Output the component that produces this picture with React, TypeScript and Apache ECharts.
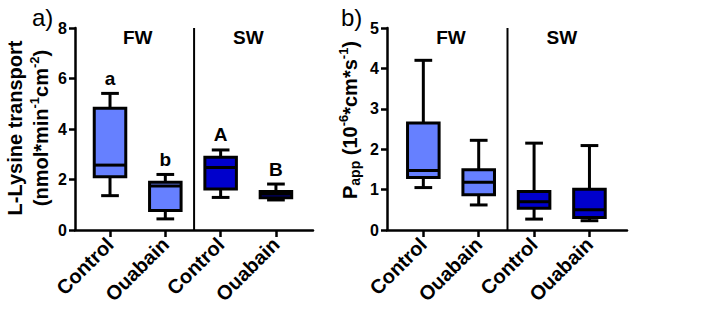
import React, { useEffect, useRef } from "react";
import * as echarts from "echarts";

// ---- data ----
const categories = ["Control", "Ouabain", "Control", "Ouabain"];
const groups = ["FW", "FW", "SW", "SW"];
const groupNames = ["FW", "SW"];

// Panel a: L-Lysine transport  [min, q1, median, q3, max]
const lysineMin = [1.36, 0.44, 1.29, 1.19];
const lysineQ1 = [2.11, 0.77, 1.62, 1.28];
const lysineMedian = [2.57, 1.74, 2.48, 1.42];
const lysineQ3 = [4.82, 1.89, 2.88, 1.52];
const lysineMax = [5.41, 2.2, 3.17, 1.82];
const lysineLetters = ["a", "b", "A", "B"];

// Panel b: Papp
const pappMin = [1.05, 0.62, 0.27, 0.23];
const pappQ1 = [1.3, 0.87, 0.54, 0.31];
const pappMedian = [1.47, 1.18, 0.7, 0.5];
const pappQ3 = [2.65, 1.49, 0.95, 1.01];
const pappMax = [4.2, 2.22, 2.15, 2.09];
const pappLetters = ["", "", "", ""];

const yTicksA = [0, 2, 4, 6, 8];
const yTicksB = [0, 1, 2, 3, 4, 5];

const FONT = '"Liberation Sans", Arial, sans-serif';
const LIGHT = "#6680ff";
const DARK = "#0000cc";
const BOX_W = 0.57;
const CAP_W = 0.32;
const DIVIDER_X = 1.52;

function buildBoxData(mn: number[], q1: number[], md: number[], q3: number[], mx: number[]) {
  return categories.map((_, i) => [i, mn[i], q1[i], md[i], q3[i], mx[i]]);
}

function boxRenderer(letters: string[]) {
  return (params: any, api: any) => {
    const x = api.value(0);
    const lo = api.coord([x, api.value(1)]);
    const q1 = api.coord([x, api.value(2)]);
    const md = api.coord([x, api.value(3)]);
    const q3 = api.coord([x, api.value(4)]);
    const hi = api.coord([x, api.value(5)]);
    const w = api.size([BOX_W, 0])[0];
    const cw = api.size([CAP_W, 0])[0];
    const cx = lo[0];
    const color = groups[params.dataIndex] === "FW" ? LIGHT : DARK;
    const ls = { stroke: "#000", lineWidth: 3 };
    const children: any[] = [
      { type: "line", shape: { x1: cx, y1: hi[1], x2: cx, y2: q3[1] }, style: ls },
      { type: "line", shape: { x1: cx, y1: q1[1], x2: cx, y2: lo[1] }, style: ls },
      { type: "line", shape: { x1: cx - cw / 2, y1: hi[1], x2: cx + cw / 2, y2: hi[1] }, style: ls },
      { type: "line", shape: { x1: cx - cw / 2, y1: lo[1], x2: cx + cw / 2, y2: lo[1] }, style: ls },
      {
        type: "rect",
        shape: { x: cx - w / 2, y: q3[1], width: w, height: q1[1] - q3[1] },
        style: { fill: color, stroke: "#000", lineWidth: 3 },
      },
      { type: "line", shape: { x1: cx - w / 2, y1: md[1], x2: cx + w / 2, y2: md[1] }, style: ls },
    ];
    const letter = letters[params.dataIndex];
    if (letter) {
      children.push({
        type: "text",
        style: {
          text: letter,
          x: cx,
          y: hi[1] - 15,
          align: "center",
          verticalAlign: "middle",
          font: `bold 19px ${FONT}`,
          fill: "#000",
        },
      });
    }
    return { type: "group", children };
  };
}

function groupRenderer() {
  return (params: any, api: any) => {
    const p = api.coord([api.value(0), 0]);
    const top = params.coordSys.y;
    return {
      type: "text",
      style: {
        text: groupNames[params.dataIndex],
        x: p[0],
        y: top + 9,
        align: "center",
        verticalAlign: "middle",
        font: `bold 19px ${FONT}`,
        fill: "#000",
      },
    };
  };
}

function dividerRenderer() {
  return (params: any, api: any) => {
    const p = api.coord([api.value(0), 0]);
    const cs = params.coordSys;
    return {
      type: "line",
      shape: { x1: p[0], y1: cs.y, x2: p[0], y2: cs.y + cs.height },
      style: { stroke: "#000", lineWidth: 2 },
    };
  };
}

function makeXAxis(idx: number, min: number, max: number) {
  return {
    type: "value",
    gridIndex: idx,
    min,
    max,
    splitLine: { show: false },
    axisLine: { show: true, onZero: false, lineStyle: { color: "#000", width: 2.5 } },
    axisTick: { show: true, customValues: [0, 1, 2, 3], length: 7, lineStyle: { color: "#000", width: 2.5 } },
    axisLabel: {
      customValues: [0, 1, 2, 3],
      formatter: (v: number) => categories[Math.round(v)] ?? "",
      rotate: 45,
      margin: 11,
      color: "#000",
      fontWeight: "bold",
      fontSize: 20,
      fontFamily: FONT,
    },
  };
}

function makeYAxis(idx: number, max: number, interval: number) {
  return {
    type: "value",
    gridIndex: idx,
    min: 0,
    max,
    interval,
    position: "left",
    splitLine: { show: false },
    axisLine: { show: true, onZero: false, lineStyle: { color: "#000", width: 2.5 } },
    axisTick: { show: true, length: 6, lineStyle: { color: "#000", width: 2.5 } },
    axisLabel: { margin: 8, color: "#000", fontWeight: "bold", fontSize: 16, fontFamily: FONT },
  };
}

export default function App() {
  const ref = useRef<HTMLDivElement>(null);
  useEffect(() => {
    if (!ref.current) return;
    const chart = echarts.init(ref.current, undefined, { renderer: "svg" });
    const supStyle = { fontSize: 13, fontWeight: "bold", fontFamily: FONT, fill: "#000", padding: [0, 0, 14, 0] };
    const subStyle = { fontSize: 14, fontWeight: "bold", fontFamily: FONT, fill: "#000", padding: [10, 0, 0, 0] };
    const option: any = {
      animation: false,
      backgroundColor: "#fff",
      grid: [
        { left: 75, top: 28, width: 238, height: 202 },
        { left: 387, top: 28, width: 240, height: 202 },
      ],
      xAxis: [makeXAxis(0, -0.633, 3.67), makeXAxis(1, -0.656, 3.678)],
      yAxis: [
        makeYAxis(0, yTicksA[yTicksA.length - 1], yTicksA[1] - yTicksA[0]),
        makeYAxis(1, yTicksB[yTicksB.length - 1], yTicksB[1] - yTicksB[0]),
      ],
      series: [
        {
          type: "custom",
          xAxisIndex: 0,
          yAxisIndex: 0,
          renderItem: dividerRenderer(),
          data: [[DIVIDER_X]],
          encode: { x: 0 },
          silent: true,
          z: 1,
        },
        {
          type: "custom",
          xAxisIndex: 1,
          yAxisIndex: 1,
          renderItem: dividerRenderer(),
          data: [[DIVIDER_X]],
          encode: { x: 0 },
          silent: true,
          z: 1,
        },
        {
          type: "custom",
          xAxisIndex: 0,
          yAxisIndex: 0,
          renderItem: groupRenderer(),
          data: [[0.5], [2.5]],
          encode: { x: 0 },
          silent: true,
        },
        {
          type: "custom",
          xAxisIndex: 1,
          yAxisIndex: 1,
          renderItem: groupRenderer(),
          data: [[0.5], [2.5]],
          encode: { x: 0 },
          silent: true,
        },
        {
          type: "custom",
          name: "L-Lysine transport",
          xAxisIndex: 0,
          yAxisIndex: 0,
          renderItem: boxRenderer(lysineLetters),
          data: buildBoxData(lysineMin, lysineQ1, lysineMedian, lysineQ3, lysineMax),
          encode: { x: 0, y: [1, 2, 3, 4, 5] },
          z: 3,
        },
        {
          type: "custom",
          name: "Papp",
          xAxisIndex: 1,
          yAxisIndex: 1,
          renderItem: boxRenderer(pappLetters),
          data: buildBoxData(pappMin, pappQ1, pappMedian, pappQ3, pappMax),
          encode: { x: 0, y: [1, 2, 3, 4, 5] },
          z: 3,
        },
      ],
      graphic: [
        {
          type: "text",
          x: 32,
          y: 17,
          style: { text: "a)", font: `24px ${FONT}`, fill: "#000", align: "left", verticalAlign: "middle" },
        },
        {
          type: "text",
          x: 341,
          y: 17,
          style: { text: "b)", font: `24px ${FONT}`, fill: "#000", align: "left", verticalAlign: "middle" },
        },
        {
          type: "text",
          x: 15,
          y: 128,
          rotation: Math.PI / 2,
          style: {
            text: "L-Lysine transport",
            font: `bold 20px ${FONT}`,
            fill: "#000",
            align: "center",
            verticalAlign: "middle",
          },
        },
        {
          type: "text",
          x: 41,
          y: 128,
          rotation: Math.PI / 2,
          style: {
            text: "{n|(nmol*min}{s|-1}{n|cm}{s|-2}{n|)}",
            align: "center",
            verticalAlign: "middle",
            rich: {
              n: { fontSize: 20, fontWeight: "bold", fontFamily: FONT, fill: "#000" },
              s: supStyle,
            },
          },
        },
        {
          type: "text",
          x: 350,
          y: 120,
          rotation: Math.PI / 2,
          style: {
            text: "{n|P}{b|app}{n| (10}{s|-6}{n|*cm*s}{s|-1}{n|)}",
            align: "center",
            verticalAlign: "middle",
            rich: {
              n: { fontSize: 20, fontWeight: "bold", fontFamily: FONT, fill: "#000" },
              s: supStyle,
              b: subStyle,
            },
          },
        },
      ],
    };
    chart.setOption(option);
    return () => chart.dispose();
  }, []);
  return <div ref={ref} style={{ width: 709, height: 316, position: "absolute", left: 0, top: 0 }} />;
}
